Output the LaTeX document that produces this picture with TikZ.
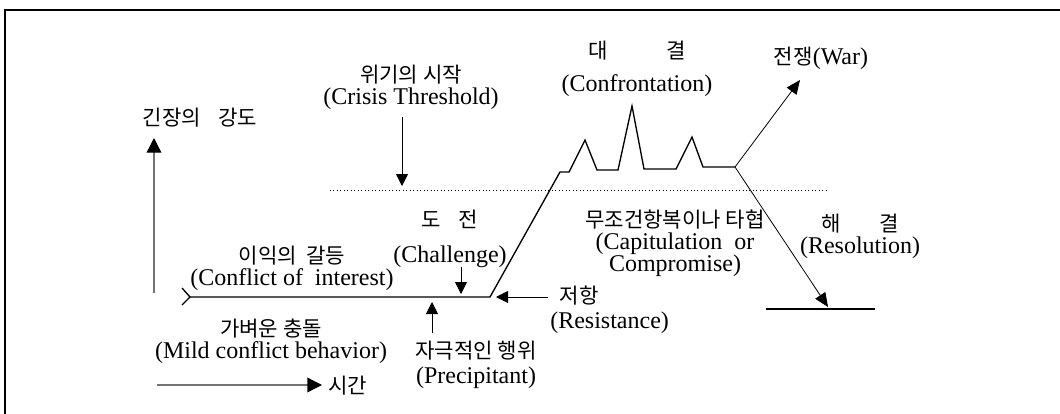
\documentclass[tikz,border=0pt]{standalone}
\usepackage{fontspec}
\setmainfont{Liberation Serif}
\newfontfamily\krfont[Scale=0.88]{Noto Sans CJK KR}
\usetikzlibrary{arrows.meta}
\newcommand{\kr}[1]{{\krfont #1}}
\tikzset{
  lab/.style={inner sep=0pt, align=center, font=\fontsize{18}{16.5}\selectfont},
  curve/.style={line width=1pt, line join=miter},
  ptr/.style={line width=0.6pt, -{Triangle[length=9pt, width=9pt]}},
  bigptr/.style={line width=0.6pt, -{Triangle[length=10.5pt, width=9pt]}},
  axis/.style={line width=1pt, black!55, -{Triangle[length=11pt, width=11pt, color=black]}}
}

\begin{document}
\begin{tikzpicture}[x=0.75pt, y=-0.75pt]
    \useasboundingbox (0,0) rectangle (1060,414);
    % frame (only top and left edges are inside the picture)
    \draw[line width=1.3pt] (5,414) -- (5,10) -- (1060,10);
    % axes
    \coordinate (yfoot) at (154,293);
    \coordinate (ytop) at (154,138);
    \coordinate (tfoot) at (157,385);
    \coordinate (ttip) at (322,385);
    \draw[axis] (yfoot) -- (ytop);
    \draw[axis] (tfoot) -- (ttip);
    \node[lab] (ylab) at (200,118) {\kr{긴장의\hspace{13pt}강도}};
    \node[lab, anchor=west] (tlab) at (328,386) {\kr{시간}};
    % crisis threshold
    \coordinate (thl) at (330,190);
    \coordinate (thr) at (828,190);
    \draw[dotted, line width=0.6pt] (thl) -- (thr);
    % course of the conflict
    \coordinate (start) at (190,297);
    \coordinate (rise) at (490,297);
    \coordinate (fork) at (735,167);
    \draw[curve] (182,288) -- (start) -- (182,305);
    \draw[curve] (start) -- (rise) -- (560,172) -- (569,172) -- (585,140) -- (597,170)
      -- (618,170) -- (632,106) -- (644,169) -- (676,169) -- (692,137) -- (703,167) -- (fork);
    % outcomes
    \coordinate (war) at (800,80);
    \coordinate (settle) at (828,307);
    \draw[bigptr] (fork) -- (war);
    \draw[bigptr] (fork) -- (settle);
    \draw[line width=1.6pt] (766,309) -- (875,309);
    % labels
    \node[lab] (crisis) at (411,87) {\kr{위기의 시작}\\(Crisis Threshold)};
    \node[lab] (confront) at (637,69) {\kr{대\hspace{44pt}결}\\[8.5pt](Confrontation)};
    \node[lab] (warlab) at (821,58) {\kr{전쟁}(War)};
    \node[lab] (challenge) at (450,239) {\kr{도\hspace{13pt}전}\\[10pt](Challenge)};
    \node[lab] (interest) at (292,268) {\kr{이익의\hspace{7pt}갈등}\\(Conflict of\ \ interest)};
    \node[lab] (mild) at (271,341) {\kr{가벼운 충돌}\\(Mild\ conflict\ behavior)};
    \node[lab] (precip) at (476,365) {\kr{자극적인 행위}\\[2pt](Precipitant)};
    \node[lab, align=left, anchor=west] (resist) at (550,310) {\hspace*{7pt}\kr{저항}\\[2pt](Resistance)};
    \node[lab] (capit) at (675,243) {\kr{무조건항복이나 타협}\\(Capitulation\ \ or\\Compromise)};
    \node[lab] (resol) at (860,236) {\kr{해\hspace{29pt}결}\\(Resolution)};
    % pointers
    \coordinate (crA) at (402,117);
    \coordinate (crB) at (402,186);
    \coordinate (chA) at (461,267);
    \coordinate (chB) at (461,294);
    \coordinate (prA) at (432,333);
    \coordinate (prB) at (432,302);
    \coordinate (reA) at (548,297);
    \coordinate (reB) at (496,297);
    \draw[ptr] (crA) -- (crB);
    \draw[ptr] (chA) -- (chB);
    \draw[ptr] (prA) -- (prB);
    \draw[ptr] (reA) -- (reB);
\end{tikzpicture}
\end{document}
